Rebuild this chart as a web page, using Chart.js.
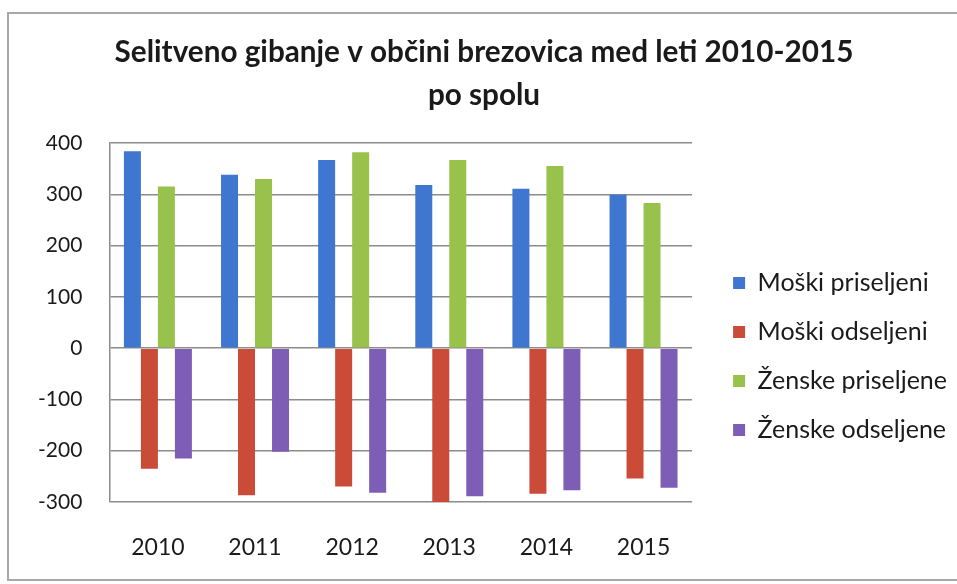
<!DOCTYPE html>
<html>
<head>
<meta charset="utf-8">
<script src="https://cdn.jsdelivr.net/npm/chart.js@4.4.0/dist/chart.umd.min.js"></script>
<style>
    html, body { margin: 0; padding: 0; background: #fff; }
    #wrap { position: relative; width: 957px; height: 584px; }
    #frame {
        position: absolute; left: 7px; top: 12px; width: 950px; height: 569px;
        border: 2px solid #a8a8a8; border-right: none; box-sizing: border-box;
        pointer-events: none;
    }
    canvas { position: absolute; left: 0; top: 0; }
</style>
</head>
<body>
<div id="wrap">
    <canvas id="migrationChart" width="957" height="584"></canvas>
    <div id="frame"></div>
</div>
<script>
// Data
const years = ['2010', '2011', '2012', '2013', '2014', '2015'];
const moskiPriseljeni = [384, 338, 367, 318, 311, 299];
const moskiOdseljeni = [-235, -287, -270, -303, -284, -254];
const zenskePriseljene = [315, 330, 382, 367, 355, 283];
const zenskeOdseljene = [-215, -202, -282, -289, -277, -272];
const titleLines = ['Selitveno gibanje v občini brezovica med leti 2010-2015', 'po spolu'];

const fontFamily = 'Lato, "Open Sans", sans-serif';
const textColor = '#1a1a1a';
const gridColor = '#8c8c8c';

const ctx = document.getElementById('migrationChart');
new Chart(ctx, {
    type: 'bar',
    data: {
        labels: years,
        datasets: [
            { label: 'Moški priseljeni', data: moskiPriseljeni, backgroundColor: '#3f77d0' },
            { label: 'Moški odseljeni', data: moskiOdseljeni, backgroundColor: '#c94b38' },
            { label: 'Ženske priseljene', data: zenskePriseljene, backgroundColor: '#98c24c' },
            { label: 'Ženske odseljene', data: zenskeOdseljene, backgroundColor: '#7d5db5' }
        ]
    },
    options: {
        responsive: false,
        animation: false,
        layout: {
            padding: { left: 11, right: 0, top: 0, bottom: 0 }
        },
        datasets: {
            bar: { categoryPercentage: 0.7, barPercentage: 1.0 }
        },
        plugins: {
            title: {
                display: true,
                text: titleLines,
                color: textColor,
                font: { family: fontFamily, size: 29.7, weight: 'bold', lineHeight: 1.448 },
                padding: { top: 30.5, bottom: 26.5 }
            },
            legend: {
                position: 'right',
                maxWidth: 248,
                // empty title only pushes the items down
                title: {
                    display: true,
                    text: '',
                    font: { family: fontFamily, size: 10, lineHeight: 1 },
                    padding: { top: 119, bottom: 0 }
                },
                labels: {
                    color: textColor,
                    font: { family: fontFamily, size: 25 },
                    boxWidth: 12,
                    boxHeight: 12,
                    padding: 24
                }
            },
            tooltip: { enabled: false }
        },
        scales: {
            y: {
                min: -300,
                max: 400,
                ticks: {
                    stepSize: 100,
                    color: textColor,
                    font: { family: fontFamily, size: 21 },
                    padding: 27
                },
                grid: {
                    color: gridColor,
                    lineWidth: 1.5,
                    drawTicks: false
                },
                border: { display: true, color: gridColor, width: 1.5 }
            },
            x: {
                ticks: {
                    color: textColor,
                    font: { family: fontFamily, size: 23 },
                    padding: 32
                },
                grid: { display: false, drawTicks: false },
                border: { display: false },
                afterFit: (scale) => { scale.height = 82; }
            },
            // empty axis, keeps a gap between plot and legend
            spacer: {
                type: 'linear',
                position: 'right',
                display: true,
                grid: { display: false, drawTicks: false },
                border: { display: false },
                ticks: { display: false },
                afterFit: (scale) => { scale.width = 17; }
            }
        }
    }
});
</script>
</body>
</html>
